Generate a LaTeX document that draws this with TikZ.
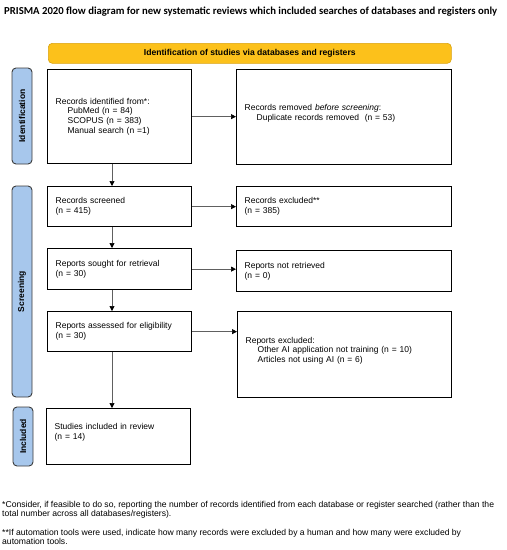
\documentclass[tikz,border=0pt]{standalone}
\usepackage{fontspec}
\setmainfont{Liberation Sans}
\newfontfamily\titlefont{Carlito}
\usepackage{xcolor}
\definecolor{prisma-yellow}{HTML}{FCC11B}
\definecolor{prisma-gold}{HTML}{D9A20E}
\definecolor{prisma-blue}{HTML}{A7C7EC}
\definecolor{prisma-edge}{HTML}{3C3C3C}
\definecolor{prisma-line}{HTML}{606060}
\usepackage{tikz}
\usetikzlibrary{arrows.meta,positioning}

\tikzset{
    box/.style={draw=black, line width=1.3pt, anchor=north west, align=left,
                inner xsep=8pt, font=\fontsize{8.5}{9.8}\selectfont},
    phase/.style={draw=prisma-edge, fill=prisma-blue, line width=0.9pt, rounded corners=4pt,
                  rotate=90, minimum height=20pt, inner sep=0pt,
                  font=\fontsize{8.5}{9.8}\selectfont\bfseries},
    note/.style={anchor=north west, align=left, inner sep=0pt, font=\fontsize{8.6}{8.8}\selectfont},
    flow/.style={draw=prisma-line, line width=0.7pt, -{Triangle[length=5pt, width=5pt, color=black]}}
}

\begin{document}
\begin{tikzpicture}[x=1pt, y=-1pt]

    % Page
    \useasboundingbox (0, 0) rectangle (507, 550);

    % Title
    \node[anchor=west, inner sep=0pt, font=\titlefont\fontsize{10.7}{12}\selectfont\bfseries] (title) at (4, 12)
        {PRISMA 2020 flow diagram for new systematic reviews which included searches of databases and registers only};

    % Header
    \node[draw=prisma-gold, fill=prisma-yellow, line width=0.6pt, rounded corners=4pt, anchor=north west,
          minimum width=403pt, minimum height=20pt, font=\fontsize{8.6}{9.8}\selectfont\bfseries] (header) at (48, 43)
        {Identification of studies via databases and registers};

    % Phases
    \node[phase, minimum width=96pt] (identlabel) at (22, 116) {Identification};
    \node[phase, minimum width=211pt] (screenlabel) at (22, 291.5) {Screening};
    \node[phase, minimum width=59pt] (includelabel) at (23, 436.5) {Included};

    % Left column
    \node[box, text width=128pt, minimum height=94pt] (records) at (47, 69)
        {Records identified from*:\\
         \hspace*{12pt}PubMed (n = 84)\\
         \hspace*{12pt}SCOPUS (n = 383)\\
         \hspace*{12pt}Manual search (n =1)};
    \node[box, text width=128pt, minimum height=40pt] (screened) at (47, 186)
        {Records screened\\(n = 415)};
    \node[box, text width=128pt, minimum height=41pt] (sought) at (47, 248)
        {Reports sought for retrieval\\(n = 30)};
    \node[box, text width=128pt, minimum height=40pt] (assessed) at (47, 311)
        {Reports assessed for eligibility\\(n = 30)};
    \node[box, text width=128pt, minimum height=56pt] (included) at (46, 408)
        {Studies included in review\\(n = 14)\\ ~};

    % Right column
    \node[box, text width=199pt, minimum height=95pt] (removed) at (236, 69)
        {Records removed \textit{before screening}:\\
         \hspace*{12pt}Duplicate records removed\ \ (n = 53)\\ ~};
    \node[box, text width=199pt, minimum height=40pt] (excluded) at (236, 186)
        {Records excluded**\\(n = 385)};
    \node[box, text width=199pt, minimum height=41pt] (notretrieved) at (236, 250)
        {Reports not retrieved\\(n = 0)};
    \node[box, text width=198pt, minimum height=86pt] (reportsexcl) at (237, 311)
        {Reports excluded:\\
         \hspace*{12pt}Other AI application not training (n = 10)\\
         \hspace*{12pt}Articles not using AI (n = 6)\\ ~};

    % Connectors
    \coordinate (spine) at (112, 0);
    \draw[flow] (records.east) -- (records.east -| removed.west);
    \draw[flow] (screened.east) -- (screened.east -| excluded.west);
    \draw[flow] (sought.east) -- (sought.east -| notretrieved.west);
    \draw[flow] (assessed.east) -- (assessed.east -| reportsexcl.west);
    \draw[flow] (spine |- records.south) -- (spine |- screened.north);
    \draw[flow] (spine |- screened.south) -- (spine |- sought.north);
    \draw[flow] (spine |- sought.south) -- (spine |- assessed.north);
    \draw[flow] (spine |- assessed.south) -- (spine |- included.north);

    % Notes
    \node[note] (note1) at (2, 501)
        {*Consider, if feasible to do so, reporting the number of records identified from each database or register searched (rather than the\\
         total number across all databases/registers).};
    \node[note] (note2) at (2, 529)
        {**If automation tools were used, indicate how many records were excluded by a human and how many were excluded by\\
         automation tools.};

\end{tikzpicture}
\end{document}
